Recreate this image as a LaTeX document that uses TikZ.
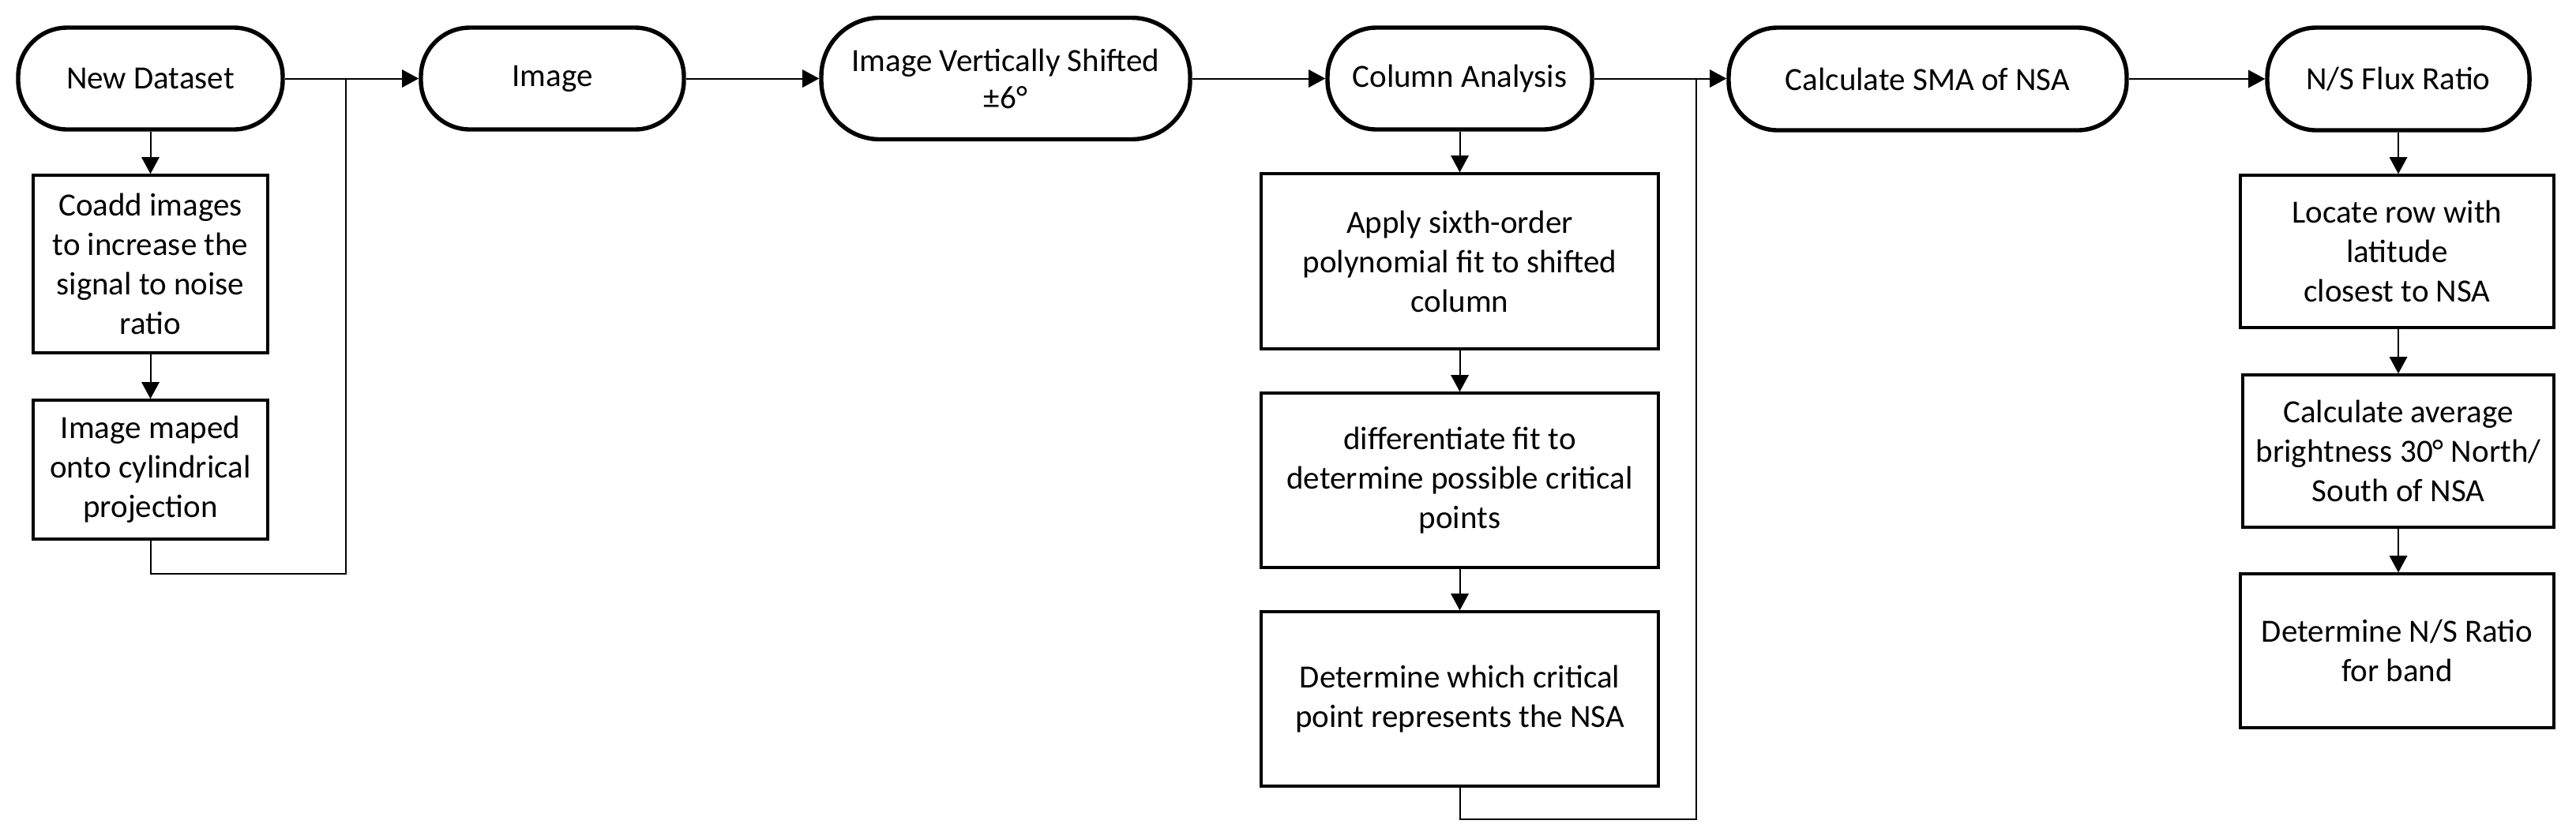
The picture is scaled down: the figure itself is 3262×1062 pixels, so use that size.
\documentclass[tikz,border=0pt]{standalone}
\usepackage{fontspec}
\setmainfont{Carlito}
\usetikzlibrary{arrows.meta}
\begin{document}
\begin{tikzpicture}[x=0.25pt,y=-0.25pt,
  txt/.style={align=center,font=\fontsize{10.25}{12.5}\selectfont,inner sep=0pt},
  term/.style={txt,draw,line width=1.35pt,rounded corners=15.5pt},
  proc/.style={txt,draw,line width=0.85pt},
  conn/.style={line width=0.5pt,draw=black},
  arr/.style={conn,-{Triangle[length=5.3pt,width=5.6pt]}}]
\useasboundingbox (0,0) rectangle (3262,1062);
% terminators
\node[term,minimum width=83.75pt,minimum height=32.25pt] (nd) at (190.5,99.5) {New Dataset};
\node[term,minimum width=83.25pt,minimum height=32.25pt] (img) at (699.5,99.5) {Image};
\node[term,rounded corners=18.5pt,minimum width=116.75pt,minimum height=38.5pt,font=\fontsize{10.25}{11.75}\selectfont] (ivs) at (1273.5,99.5) {Image Vertically Shifted\\±6°};
\node[term,minimum width=83.75pt,minimum height=32.25pt] (ca) at (1848.5,99.5) {Column Analysis};
\node[term,minimum width=126pt,minimum height=32.5pt] (sma) at (2441,100) {Calculate SMA of NSA};
\node[term,minimum width=83pt,minimum height=32.5pt] (ns) at (3037,100) {N/S Flux Ratio};
% process boxes
\node[proc,minimum width=74.25pt,minimum height=56.25pt] (coadd) at (190.5,334.5) {Coadd images\\to increase the\\signal to noise\\ratio};
\node[proc,minimum width=74.25pt,minimum height=44pt] (maped) at (190.5,595) {Image maped\\onto cylindrical\\projection};
\node[proc,minimum width=125.75pt,minimum height=55.5pt] (apply) at (1848.5,331) {Apply sixth-order\\polynomial fit to shifted\\column};
\node[proc,minimum width=125.75pt,minimum height=55.25pt] (diff) at (1848.5,608.5) {differentiate fit to\\determine possible critical\\points};
\node[proc,minimum width=125.75pt,minimum height=55.25pt] (det) at (1848.5,885.5) {Determine which critical\\point represents the NSA};
\node[proc,minimum width=99.25pt,minimum height=48.25pt] (loc) at (3035.5,318.5) {Locate row with\\latitude\\closest to NSA};
\node[proc,minimum width=98.5pt,minimum height=48.25pt] (avg) at (3037,571.5) {Calculate average\\brightness 30° North/\\South of NSA};
\node[proc,minimum width=99.25pt,minimum height=48.75pt] (dns) at (3035.5,824.5) {Determine N/S Ratio\\for band};
% junction points
\coordinate (j1) at (438,99.5);
\coordinate (j1b) at (438,727);
\coordinate (j2) at (2148,99.5);
\coordinate (j2b) at (2148,1038);
% connectors
\draw[arr] (nd) -- (img);
\draw[conn] (maped.south) |- (j1b) -- (j1);
\draw[arr] (nd) -- (coadd);
\draw[arr] (coadd) -- (maped);
\draw[arr] (img) -- (ivs);
\draw[arr] (ivs) -- (ca);
\draw[arr] (ca) -- (sma.west |- ca.east);
\draw[conn] (det.south) |- (j2b) -- (j2);
\draw[arr] (ca) -- (apply);
\draw[arr] (apply) -- (diff);
\draw[arr] (diff) -- (det);
\draw[arr] (sma) -- (ns);
\draw[arr] (ns) -- (loc.north -| ns.south);
\draw[arr] (loc.south -| ns.south) -- (avg.north -| ns.south);
\draw[arr] (avg.south -| ns.south) -- (dns.north -| ns.south);
\end{tikzpicture}
\end{document}
